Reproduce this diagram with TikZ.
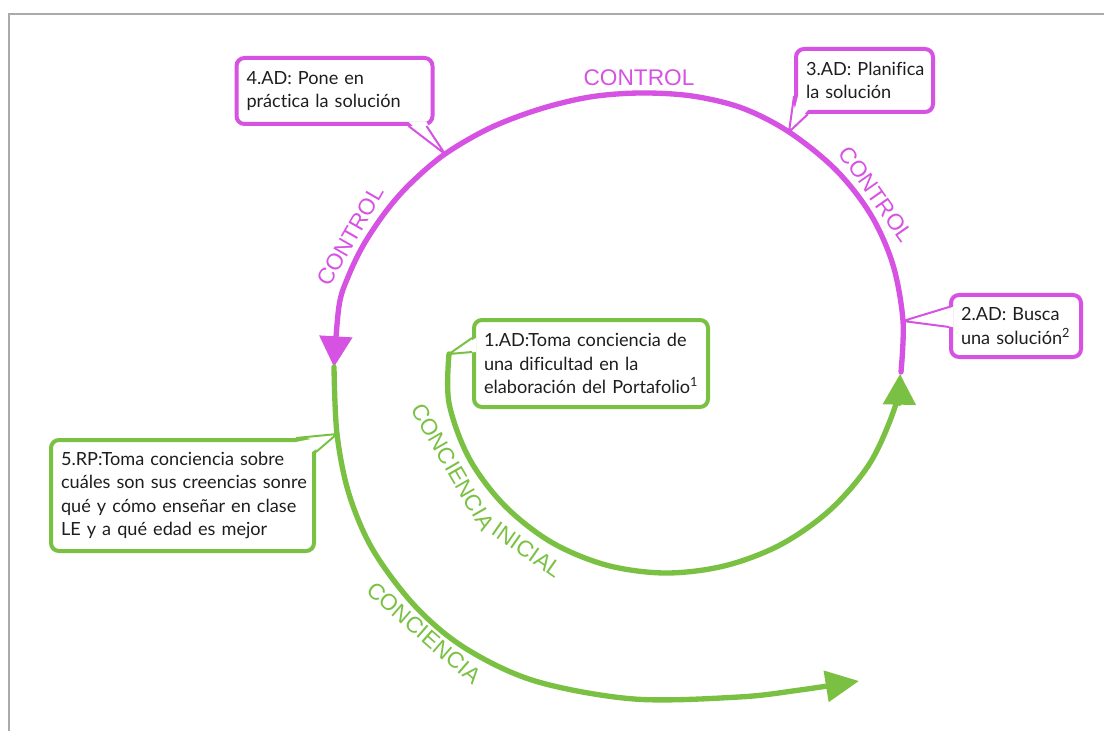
\documentclass[tikz,border=0pt]{standalone}
\usepackage{fontspec}
\setmainfont{Lato}[Ligatures=NoCommon]
\newfontfamily\ctrlfont{Liberation Sans}
\usetikzlibrary{arrows.meta,calc}
\definecolor{mag}{RGB}{214,82,226}
\definecolor{grn}{RGB}{122,193,67}
\definecolor{txt}{RGB}{30,30,30}
\definecolor{framegray}{RGB}{170,170,170}
\newcommand\lblfont{\ctrlfont\fontsize{17}{20}\selectfont}
\begin{document}
\begin{tikzpicture}[x=0.75pt,y=-0.75pt,
  callout/.style={draw=#1, fill=white, line width=3pt, rounded corners=6pt, anchor=north west,
    align=left, inner xsep=7.5pt, inner ysep=0pt, font=\fontsize{13.6}{17.5}\selectfont, text=txt},
  tailline/.style={draw=#1, line width=1.5pt, line join=round},
  arcline/.style={line width=4pt, line cap=round},
  tiphead/.style={-{Triangle[length=23pt,width=24pt]}},
  lbl/.style={text=#1, font=\lblfont, inner sep=0pt}
]
\useasboundingbox (0,0) rectangle (1104,731);
\draw[framegray, line width=1.5pt] (1104,14) -- (8.5,14) -- (8.5,731);

% named points on the curves
\coordinate (p4) at (445,154);
\coordinate (p3) at (789,132);
\coordinate (p2) at (903,321);
\coordinate (p1) at (449,354);
\coordinate (p5) at (337,434);
\coordinate (jn) at (334,367);

% callout boxes
\node[callout=mag, text width=132pt, minimum height=49.5pt] (b4) at (234.5,56) {\mbox{4.AD: Pone en}\\\mbox{práctica la solución}};
\node[callout=mag, text width=87.75pt, minimum height=47.25pt] (b3) at (794,47) {\mbox{3.AD: Planifica}\\\mbox{la solución}};
\node[callout=mag, text width=82.5pt, minimum height=46.5pt] (b2) at (949,293) {\mbox{2.AD: Busca}\\\mbox{una solución\textsuperscript{2}}};
\node[callout=grn, text width=160.5pt, minimum height=65.25pt] (b1) at (472,318) {\mbox{1.AD:Toma conciencia de}\\\mbox{una dificultad en la}\\\mbox{elaboración del Portafolio\textsuperscript{1}}};
\node[callout=grn, text width=182.25pt, minimum height=83.25pt] (b5) at (49,438) {\mbox{5.RP:Toma conciencia sobre}\\\mbox{cuáles son sus creencias sonre}\\\mbox{qué y cómo enseñar en clase}\\\mbox{LE y a qué edad es mejor}};

% tails
\fill[white] ($(b4.south east)+(-26,-4)$) -- (p4) -- ($(b4.south east)+(-8,-4)$) -- cycle;
\draw[tailline=mag] ($(b4.south east)+(-26,0)$) -- (p4) -- ($(b4.south east)+(-8,0)$);
\fill[white] ($(b3.south west)+(4,-18)$) -- (p3) -- ($(b3.south west)+(14,-4)$) -- cycle;
\draw[tailline=mag] ($(b3.south west)+(0,-18)$) -- (p3) -- ($(b3.south west)+(14,0)$);
\fill[white] ($(b2.north west)+(4,14)$) -- (p2) -- ($(b2.north west)+(4,34)$) -- cycle;
\draw[tailline=mag] ($(b2.north west)+(0,14)$) -- (p2) -- ($(b2.north west)+(0,34)$);
\fill[white] ($(b1.north west)+(4,20)$) -- (p1) -- ($(b1.north west)+(4,34)$) -- cycle;
\draw[tailline=grn] ($(b1.north west)+(0,20)$) -- (p1) -- ($(b1.north west)+(0,34)$);
\fill[white] ($(b5.north east)+(-20,4)$) -- (p5) -- ($(b5.north east)+(-4,14)$) -- cycle;
\draw[tailline=grn] ($(b5.north east)+(-20,0)$) -- (p5) -- ($(b5.north east)+(0,14)$);

% magenta control arc
\draw[arcline, mag, tiphead] plot[smooth, tension=0.55] coordinates {(901,372) (p2) (893,265) (871,215) (836,170) (p3) (742,108) (692,96) (640,93) (590,97) (540,109) (490,128) (p4) (411,183) (387,210) (364,244) (348,277) (339,306) (jn)};
% inner green arc
\draw[arcline, grn, tiphead] plot[smooth, tension=0.55] coordinates {(p1) (449,403) (469,458) (504,505) (551,542) (606,565) (665,573) (724,566) (780,545) (830,510) (870,463) (895,407) (900,374)};
% outer green arc
\draw[arcline, grn, -{Triangle[length=25pt,width=23pt]}] plot[smooth, tension=0.55] coordinates {(jn) (p5) (349,494) (373,550) (415,606) (465,648) (535,681) (634,699) (739,697) (800,690) (859,681)};

% labels
\node[lbl=mag, anchor=base] (ctop) at (639,86) {CONTROL};
\node[lbl=mag, rotate=-55] (cright) at (876,194) {CONTROL};
\node[lbl=mag, rotate=60] (cleft) at (350,236) {CONTROL};
\node[lbl=grn, rotate=-41] (cons) at (424,633) {CONCIENCIA};
\node[lbl=grn, rotate=-60] (ci1) at (453,467) {CONCIENCIA};
\node[lbl=grn, rotate=-35] (ci2) at (527,550) {INICIAL};
\end{tikzpicture}
\end{document}
